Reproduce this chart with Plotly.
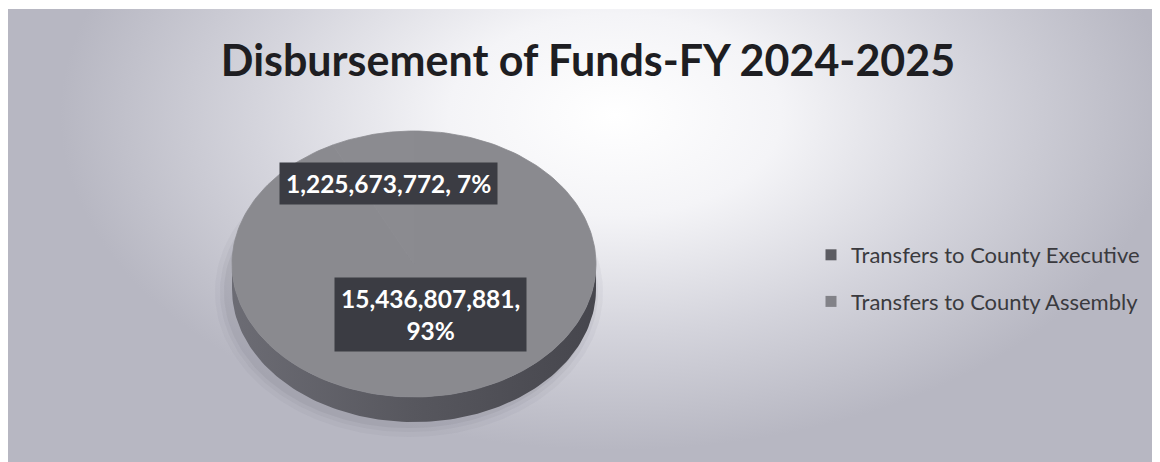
import numpy as np
import plotly.graph_objects as go

# ---------------- data ----------------
title_text = "Disbursement of Funds-FY 2024-2025"
categories = ["Transfers to County Executive", "Transfers to County Assembly"]
values = [15436807881, 1225673772]
label_wrap = [True, False]

# ---------------- style ----------------
OFF = 8                      # browser body margin offset
W, H = 1160 - OFF, 462 - OFF
TOP = 9                      # page y where the grey panel starts
top_colors = ["#8a8a8f", "#8b8b90"]
legend_colors = ["#5c5c62", "#828288"]
label_r = [0.39, 0.62]
cx, cy, a, b, depth = 414, 264, 182, 133, 25
FONT = "Lato"

total = sum(values)
fracs = [v / total for v in values]
bounds = np.concatenate([[0.0], np.cumsum(fracs)]) * 2 * np.pi


def ell(theta, dy=0.0, r=1.0):
    return cx + r * a * np.sin(theta), cy - r * b * np.cos(theta) + dy


fig = go.Figure()

# background with soft highlight
fig.add_trace(go.Scatter(
    x=[60, 1170, 1170, 60, 60], y=[-220, -220, 450, 450, -220],
    mode="lines", fill="toself", line=dict(width=0),
    fillgradient=dict(type="radial",
                      colorscale=[[0, "#ffffff"], [0.3, "#f4f4f7"], [0.65, "#d4d4dc"], [1, "#b7b7c2"]]),
    hoverinfo="skip", showlegend=False))

# soft shadow under pie
t = np.linspace(0, 2 * np.pi, 200)
for k, op in [(12, 0.06), (7, 0.08), (3, 0.10)]:
    sx = cx - 5 + (a + k) * np.sin(t)
    sy = cy + depth + 3 + (b + k) * np.cos(t)
    fig.add_trace(go.Scatter(x=sx, y=sy, mode="lines", fill="toself", line=dict(width=0),
                             fillcolor=f"rgba(100,100,112,{op})", hoverinfo="skip", showlegend=False))

# side walls (front half visible)
for i in range(len(values)):
    s0 = max(bounds[i], np.pi / 2)
    s1 = min(bounds[i + 1], 3 * np.pi / 2)
    if s1 <= s0:
        continue
    th = np.linspace(s0, s1, 120)
    ux, uy = ell(th)
    lx, ly = ell(th[::-1], dy=depth)
    fig.add_trace(go.Scatter(
        x=np.concatenate([ux, lx, ux[:1]]), y=np.concatenate([uy, ly, uy[:1]]),
        mode="lines", fill="toself", line=dict(width=0),
        fillgradient=dict(type="horizontal",
                          colorscale=[[0, "#6c6c74"], [0.5, "#57575e"], [1, "#46464d"]]),
        hoverinfo="skip", showlegend=False))

# top faces
for i in range(len(values)):
    th = np.linspace(bounds[i], bounds[i + 1], 200)
    ex, ey = ell(th)
    fig.add_trace(go.Scatter(
        x=np.concatenate([[cx], ex, [cx]]), y=np.concatenate([[cy], ey, [cy]]),
        mode="lines", fill="toself", line=dict(width=0.8, color=top_colors[i]),
        fillcolor=top_colors[i], name=categories[i],
        hoverinfo="skip", showlegend=False))

# legend entries
for i, c in enumerate(categories):
    fig.add_trace(go.Scatter(
        x=[None], y=[None], mode="markers", name=c, legendgroup=c,
        marker=dict(symbol="square", size=11, color=legend_colors[i])))

# data labels
for i, v in enumerate(values):
    mid = (bounds[i] + bounds[i + 1]) / 2
    lx, ly = ell(mid, r=label_r[i])
    pct = round(fracs[i] * 100)
    sep = ",<br>" if label_wrap[i] else ", "
    fig.add_annotation(
        x=float(lx), y=float(ly), xref="x", yref="y", showarrow=False,
        text=f"{v:,}{sep}{pct}%",
        font=dict(family=FONT, size=24.5, color="white", weight="bold"),
        bgcolor="#3b3c43", borderpad=6, align="center")

pw, ph = 1160 - OFF, 462 - TOP   # plot area size in page px
fig.update_layout(
    width=W, height=H,
    margin=dict(l=0, r=0, t=TOP - OFF, b=0),
    paper_bgcolor="white", plot_bgcolor="#b7b7c2",
    xaxis=dict(range=[OFF, 1160], visible=False, fixedrange=True),
    yaxis=dict(range=[462, TOP], visible=False, fixedrange=True),
    title=dict(text=title_text, x=(588 - OFF) / W, xanchor="center", xref="container",
               y=1 - (61 - OFF) / H, yanchor="middle", yref="container",
               font=dict(family=FONT, size=43, color="#1e1e22", weight="bold")),
    legend=dict(x=(811 - OFF) / pw, xanchor="left",
                y=1 - (234 - TOP) / ph, yanchor="top",
                font=dict(family=FONT, size=22, color="#3a3a3e"),
                bgcolor="rgba(0,0,0,0)", tracegroupgap=15, traceorder="grouped",
                itemclick=False, itemdoubleclick=False),
    showlegend=True,
)

fig.write_html("out.html")
